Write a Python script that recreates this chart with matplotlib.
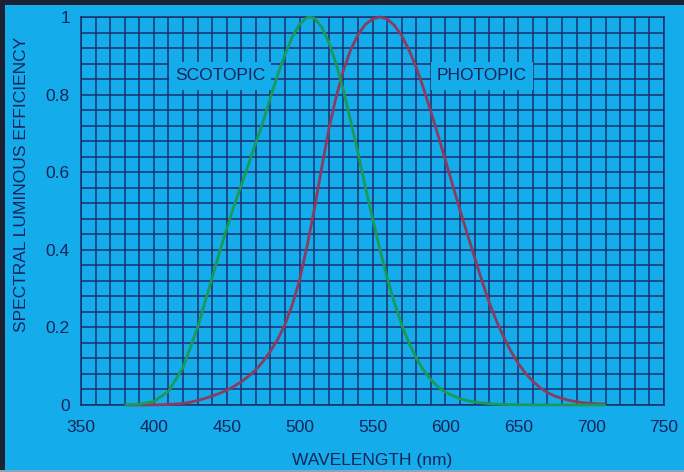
import matplotlib
matplotlib.use("Agg")
import matplotlib.pyplot as plt
from matplotlib.ticker import MultipleLocator
from matplotlib.patches import Rectangle

# Wavelengths (nm) and relative luminous efficiency values
scotopic_nm = [380, 390, 400, 410, 420, 430, 435, 440, 445, 450, 455, 460, 465, 470, 475,
               480, 485, 490, 495, 500, 505, 507, 510, 515, 520, 525, 530, 535, 540, 545,
               550, 555, 560, 565, 570, 575, 580, 585, 590, 595, 600, 610, 620, 630, 640,
               650, 660, 670, 680, 690, 700, 710]
scotopic_v = [0.000589, 0.002209, 0.00929, 0.03484, 0.0966, 0.1998, 0.2639, 0.3281, 0.3931,
              0.455, 0.5129, 0.567, 0.6209, 0.676, 0.7312, 0.793, 0.8513, 0.904, 0.949,
              0.982, 0.998, 1.0, 0.997, 0.975, 0.935, 0.880, 0.811, 0.733, 0.650, 0.564,
              0.481, 0.402, 0.3288, 0.2639, 0.2076, 0.1602, 0.1212, 0.0899, 0.0655, 0.0469,
              0.03315, 0.01593, 0.00737, 0.003335, 0.001497, 0.000677, 0.000313, 0.000148,
              0.0000715, 0.0000353, 0.0000178, 0.0000091]

photopic_nm = [380, 390, 400, 410, 420, 425, 430, 435, 440, 445, 450, 455, 460, 465, 470,
               475, 480, 485, 490, 495, 500, 505, 510, 515, 520, 525, 530, 535, 540, 545,
               550, 555, 560, 565, 570, 575, 580, 585, 590, 595, 600, 605, 610, 615, 620,
               625, 630, 635, 640, 645, 650, 655, 660, 665, 670, 675, 680, 685, 690, 695,
               700, 710]
photopic_v = [0.000039, 0.00012, 0.000396, 0.00121, 0.004, 0.0073, 0.0116, 0.01684, 0.023,
              0.0298, 0.038, 0.048, 0.06, 0.0739, 0.09098, 0.1126, 0.13902, 0.1693, 0.208,
              0.2586, 0.323, 0.4073, 0.503, 0.6082, 0.71, 0.7932, 0.862, 0.9149, 0.954,
              0.9803, 0.995, 1.0, 0.995, 0.9786, 0.952, 0.9154, 0.87, 0.8163, 0.757, 0.6949,
              0.631, 0.5668, 0.503, 0.4412, 0.381, 0.321, 0.265, 0.217, 0.175, 0.1382,
              0.107, 0.0816, 0.061, 0.0446, 0.032, 0.0232, 0.017, 0.01192, 0.00821,
              0.00572, 0.0041, 0.00209]

x_ticks = [350, 400, 450, 500, 550, 600, 650, 700, 750]
y_ticks = [0, 0.2, 0.4, 0.6, 0.8, 1]
y_tick_labels = ["0", "0.2", "0.4", "0.6", "0.8", "1"]

BG = "#14aceb"
GRID = "#1b2f6e"

plt.rcParams['font.family'] = ['Liberation Sans', 'DejaVu Sans']

fig = plt.figure(figsize=(6.84, 4.72), dpi=100, facecolor=BG)
ax = fig.add_axes([81/684, 1 - 405/472, (664-81)/684, (405-17)/472])
ax.set_facecolor(BG)

ax.set_xlim(350, 750)
ax.set_ylim(0, 1)
ax.set_xticks(x_ticks)
ax.set_yticks(y_ticks)
ax.set_yticklabels(y_tick_labels)
ax.xaxis.set_minor_locator(MultipleLocator(10))
ax.yaxis.set_minor_locator(MultipleLocator(0.04))
ax.grid(which='both', color=GRID, linewidth=1.1, zorder=0)
ax.set_axisbelow(True)
ax.tick_params(which='both', length=0, labelsize=12.5, labelcolor="#16245a")
ax.tick_params(axis='x', pad=11)
ax.tick_params(axis='y', pad=8)
for s in ax.spines.values():
    s.set_color(GRID)
    s.set_linewidth(1.1)

ax.plot(photopic_nm, photopic_v, color="#8a3c60", linewidth=2.0, zorder=4, clip_on=False,
        solid_capstyle='butt')
ax.plot(scotopic_nm, scotopic_v, color="#1a9a58", linewidth=2.0, zorder=5, clip_on=False,
        solid_capstyle='butt')

box = dict(boxstyle="square,pad=0.35", facecolor=BG, edgecolor="none")
ax.text(445.5, 0.848, "SCOTOPIC", fontsize=12.5, color="#16245a", ha="center", va="center",
        bbox=box, zorder=3)
ax.text(625, 0.848, "PHOTOPIC", fontsize=12.5, color="#16245a", ha="center", va="center",
        bbox=box, zorder=3)

fig.text(372.5/684, 1 - 461/472, "WAVELENGTH (nm)", fontsize=12.5, color="#16245a",
         ha="center", va="center")
fig.text(22/684, 1 - 184/472, "SPECTRAL LUMINOUS EFFICIENCY", fontsize=12.5,
         color="#16245a", ha="center", va="center", rotation=90)

# dark frame edges of the picture
fig.patches.append(Rectangle((0, 0), 5/684, 1, transform=fig.transFigure,
                             facecolor="#1a2233", edgecolor="none"))
fig.patches.append(Rectangle((0, 1 - 5/472), 1, 5/472, transform=fig.transFigure,
                             facecolor="#1a2233", edgecolor="none"))
fig.patches.append(Rectangle((0, 0), 1, 2/472, transform=fig.transFigure,
                             facecolor="#8aa6b8", edgecolor="none"))

fig.savefig("out.png", dpi=100, facecolor=BG)
